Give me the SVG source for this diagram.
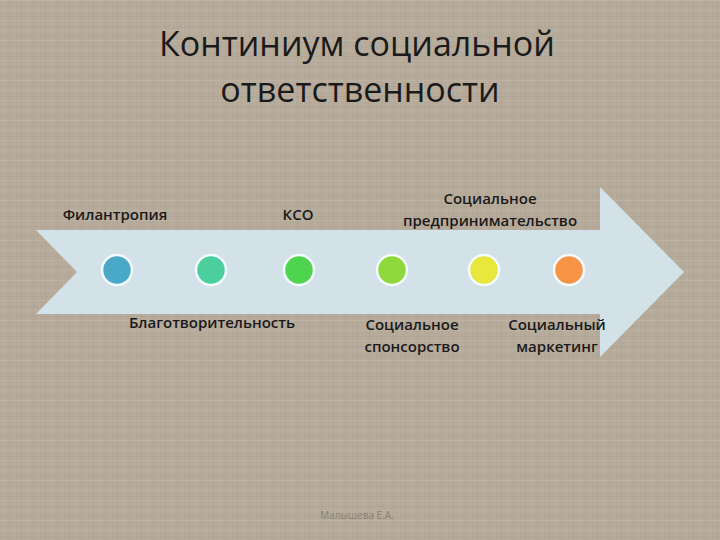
<svg xmlns="http://www.w3.org/2000/svg" width="720" height="540" viewBox="0 0 720 540">
<defs>
<pattern id="tex" width="12" height="10" patternUnits="userSpaceOnUse">
<rect width="12" height="10" fill="#b6aa9a"/>
<rect x="0" y="0" width="12" height="1" fill="#c3b8aa" opacity="0.5"/>
<rect x="0" y="6" width="12" height="1" fill="#a99d8d" opacity="0.35"/>
<rect x="3" y="0" width="1" height="10" fill="#c1b6a8" opacity="0.35"/>
<rect x="9" y="0" width="1" height="10" fill="#a89b8b" opacity="0.3"/>
</pattern>
<style>
.title{font-family:"Open Sans","Liberation Sans",sans-serif;font-size:34px;fill:#1a1a1a;text-anchor:middle}
.lbl{font-family:"Open Sans","Liberation Sans",sans-serif;font-size:15px;font-weight:600;fill:#1a1a1a;text-anchor:middle}
.dot{stroke:#f4fbfd;stroke-width:2.5}
</style>
</defs>
<rect width="720" height="540" fill="url(#tex)"/>
<text class="title" x="357" y="56">Континиум социальной</text>
<text class="title" x="360" y="102">ответственности</text>
<g id="connectors">
<path d="M36 230 H600 V187 L684 272 L600 357 V314 H36 L77 272 Z" fill="#d3e2e8"/>
</g>
<g id="n1"><circle class="dot" cx="117" cy="270" r="15" fill="#4aa8c8"/></g>
<g id="n2"><circle class="dot" cx="211" cy="270" r="15" fill="#4bcf9f"/></g>
<g id="n3"><circle class="dot" cx="299" cy="270" r="15" fill="#4fd44f"/></g>
<g id="n4"><circle class="dot" cx="392" cy="270" r="15" fill="#90d93c"/></g>
<g id="n5"><circle class="dot" cx="484" cy="270" r="15" fill="#e8e83c"/></g>
<g id="n6"><circle class="dot" cx="569" cy="270" r="15" fill="#f79445"/></g>
<g id="labels">
<text class="lbl" x="115" y="220">Филантропия</text>
<text class="lbl" x="298" y="220">КСО</text>
<text class="lbl" x="490" y="204">Социальное</text>
<text class="lbl" x="490" y="226">предпринимательство</text>
<text class="lbl" x="212" y="328">Благотворительность</text>
<text class="lbl" x="412" y="330">Социальное</text>
<text class="lbl" x="412" y="352">спонсорство</text>
<text class="lbl" x="557" y="330">Социальный</text>
<text class="lbl" x="557" y="352">маркетинг</text>
</g>
<text x="357" y="519" font-family="'Open Sans','Liberation Sans',sans-serif" font-size="10" fill="#8a8070" text-anchor="middle">Малышева Е.А.</text>
</svg>
